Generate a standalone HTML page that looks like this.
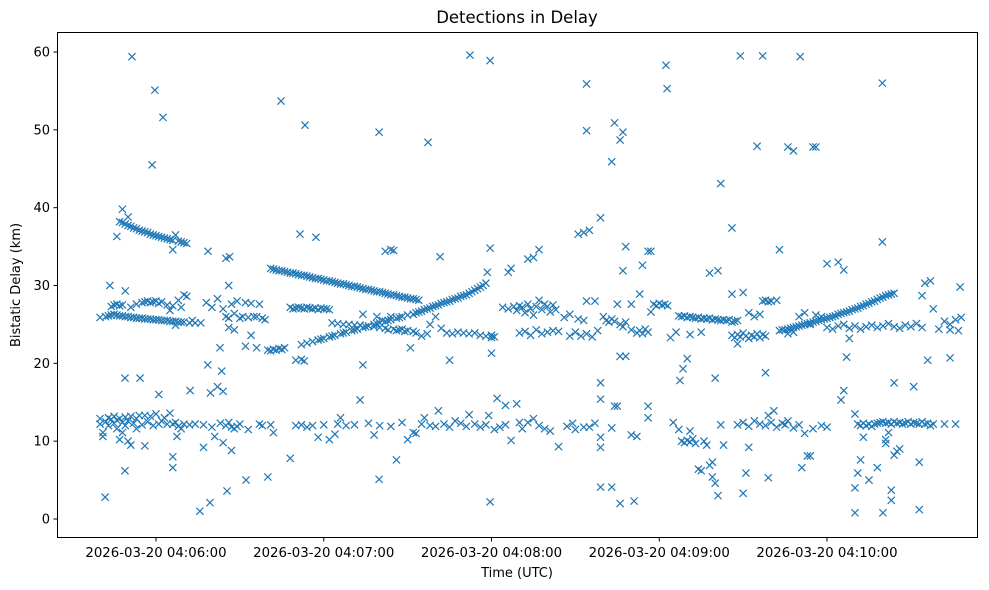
<!DOCTYPE html>
<html><head><meta charset="utf-8"><style>
html,body{margin:0;padding:0;background:#fff;}
svg{display:block;font-family:"DejaVu Sans","Liberation Sans",sans-serif;}
</style></head><body>
<svg id="chart" width="989" height="590" viewBox="0 0 989 590">
<rect x="0" y="0" width="989" height="590" fill="#fff"/>
<text x="517" y="23" text-anchor="middle" font-size="16.5" fill="#000">Detections in Delay</text>
<text x="517" y="577" text-anchor="middle" font-size="13" fill="#000">Time (UTC)</text>
<text x="20" y="285" text-anchor="middle" font-size="13" fill="#000" transform="rotate(-90 20 285)">Bistatic Delay (km)</text>
<g id="marks"></g>
<g id="axes"></g>
<rect x="57.5" y="32.5" width="920" height="505" fill="none" stroke="#000" stroke-width="1"/>
</svg>
<script>
const xTickSeconds = [60,120,180,240,300];
const xTickLabels = ["2026-03-20 04:06:00","2026-03-20 04:07:00","2026-03-20 04:08:00","2026-03-20 04:09:00","2026-03-20 04:10:00"];
const yTicks = [0,10,20,30,40,50,60];
// detections: [seconds after 04:05:00, bistatic delay km]
const trackA = [[46,36.3],[47,38.2],[48,39.8],[48,38.1],[49,37.9],[50,38.8],[50,37.7],[51,37.6],[52,37.4],[53,37.3],[54,37.1],[55,37.0],[56,36.9],[57,36.8],[58,36.6],[59,36.5],[60,36.4],[61,36.3],[62,36.2],[63,36.1],[64,36.0],[65,35.9],[66,34.6],[66,35.8],[67,36.5],[68,35.7],[69,35.6],[70,35.5],[71,35.4]];
const bandB = [[40,25.9],[42,26.0],[43,26.1],[44,26.2],[45,26.3],[46,26.2],[47,26.1],[48,26.1],[49,26.0],[50,26.0],[51,25.9],[52,25.9],[53,25.8],[54,25.8],[55,25.8],[56,25.7],[57,25.7],[58,25.7],[59,25.6],[60,25.6],[61,25.6],[62,25.5],[63,25.5],[64,25.5],[65,25.4],[66,25.4],[67,25.4],[68,25.3],[69,25.3],[70,25.3],[72,25.2],[74,25.2],[76,25.2],
[44,27.3],[45,27.5],[46,27.6],[47,27.4],[48,27.5],[49,29.3],[51,27.2],[53,27.6],[55,27.8],[56,27.9],[57,28.0],[58,27.8],[59,27.9],[60,28.0],[61,27.7],[62,27.9],[64,27.5],[65,26.8],[66,27.4],[67,24.9],[68,28.1],[69,27.2],[70,28.8],[71,28.6],[73,25.5]];
const bandC = [[40,12.9],[40,12.2],[41,11.1],[41,10.6],[42,12.5],[43,13.0],[43,12.0],[44,12.8],[45,12.3],[45,13.2],[46,11.6],[46,12.7],[47,12.9],[47,10.2],[48,12.4],[48,11.1],[49,13.1],[49,12.0],[50,12.6],[50,10.0],[51,9.5],[51,13.2],[52,12.3],[53,12.9],[53,11.6],[54,13.3],[55,12.1],[56,9.4],[56,13.3],[57,12.5],[58,13.2],[59,12.0],[60,13.5],[61,12.2],[62,12.6],[63,13.0],[64,12.2],[65,13.6],[66,12.2],[66,6.6],[67,12.4],[68,11.9],[69,11.6],[70,12.2],[72,12.1],[74,12.2]];
const outliersLeft = [[41.8,2.8],[43.5,30.0],[48.9,18.1],[48.9,6.2],[51.4,59.4],[54.3,18.1],[58.6,45.5],[59.6,55.1],[62.5,51.6],[61,16.0],[66,8.0],[67.5,10.6],[72.2,16.5],[75.7,1.0],[79.3,2.1],[85.4,3.6],[92.2,5.0],[100,5.4],[78.6,34.4],[81,10.6],[82,17.0],[82.9,22.0],[83.5,19.0],[84,16.4],[85,33.5],[86.3,33.7],[86,30.0],[79.5,16.2],[78.5,19.8],[77,9.2],[84,9.8],[87,8.8],
[78,27.8],[80,27.2],[82,28.3],[84,27.0],[85,26.0],[86,25.8],[87,27.6],[88,26.4],[89,28.0],[90,25.8],[91,26.0],[92,27.8],[93,25.9],[94,27.7],[95,26.0],[96,26.0],[97,27.6],[98,25.8],[99,25.6],[96,22.0],[92,22.2],[94,23.6],[88,24.3],[86,24.6],
[77,12.1],[80,11.8],[83,12.3],[85,12.0],[86,12.4],[87,11.8],[88,11.6],[89,11.9],[90,12.2],[93,11.5],[97,12.2],[98,12.0],[101,12.1]];
const bandMid = [[100,21.7],[101,21.6],[102,21.8],[103,21.7],[104,21.9],[105,21.8],[106,22.0],[108,27.2],[109,27.0],[110,27.1],[111,27.2],[112,27.1],[113,27.0],[114,27.2],[115,27.1],[116,27.0],[117,27.1],[118,26.9],[119,27.1],[120,27.0],[121,27.0],[122,26.9],[110,20.4],[112,20.5],[113,20.3]];
const trackD = [[101,32.2],[102,32.1],[103,32.0],[104,31.9],[105,31.9],[106,31.8],[107,31.7],[108,31.6],[109,31.6],[110,31.5],[111,31.4],[112,31.3],[113,31.3],[114,31.2],[115,31.1],[116,31.0],[117,30.9],[118,30.9],[119,30.8],[120,30.7],[121,30.6],[122,30.6],[123,30.5],[124,30.4],[125,30.3],[126,30.2],[127,30.2],[128,30.1],[129,30.0],[130,29.9],[131,29.9],[132,29.8],[133,29.7],[134,29.6],[135,29.5],[136,29.5],[137,29.4],[138,29.3],[139,29.2],[140,29.2],[141,29.1],[142,29.0],[143,28.9],[144,28.8],[145,28.8],[146,28.7],[147,28.6],[148,28.5],[149,28.5],[150,28.4],[151,28.3],[152,28.3],[153,28.2],[154,28.1]];
const trackE = [[112,22.4],[114,22.6],[116,22.8],[118,23.0],[119,23.1],[120,23.2],[122,23.4],[123,23.5],[124,23.6],[126,23.8],[127,23.9],[128,24.0],[130,24.2],[131,24.3],[132,24.4],[134,24.6],[135,24.7],[136,24.8],[138,25.0],[139,25.1],[140,25.2],[142,25.4],[143,25.5],[144,25.6],[146,25.8],[147,25.9],[148,26.0],[150,26.2],
[152,26.3],[153,26.5],[154,26.6],[155,26.7],[156,26.9],[157,27.0],[158,27.1],[159,27.3],[160,27.4],[161,27.5],[162,27.7],[163,27.8],[164,27.9],[165,28.0],[166,28.2],[167,28.3],[168,28.4],[169,28.6],[170,28.7],[171,28.8],[172,29.0],[173,29.2],[174,29.4],[175,29.6],[176,29.8],[177,30.0],[178,30.3]];
const bandG = [[123,25.2],[125,25.1],[127,25.0],[129,25.0],[131,24.9],[133,24.9],[134,26.3],[136,24.8],[138,24.7],[139,26.0],[140,24.6],[141,25.5],[142,24.5],[143,24.3],[144,26.0],[145,24.4],[146,24.2],[147,24.3],[148,24.4],[149,24.1],[150,24.2],[151,22.0],[152,24.1],[153,23.9],[155,23.5],[157,23.8],[158,25.0],[160,26.0],[162,24.5],[164,23.9],[166,23.8],[168,24.0],[170,23.9],[172,23.8],[174,23.9],[176,23.6],[178,23.5],[180,23.6],[181,23.4]];
const outliersMid = [[104.7,53.7],[113.3,50.6],[111.5,36.6],[117.2,36.2],[108,7.8],[102,11.1],[139.8,49.7],[139.8,5.1],[133,15.3],[131,12.1],[134,19.8],[142,34.4],[144,34.6],[145,34.5],[157.3,48.4],[161.6,33.7],[165,20.4],[172.3,59.6],[179.5,58.9],[179.5,34.8],[178.5,31.7],[179.5,2.2],[180,21.3],[180,23.3],[182,15.5],[146,7.6],[150,10.2],[152,11.1],[125,12.2],[126,13.0],
[110,12.0],[112,12.1],[114,11.8],[116,12.0],[118,10.5],[120,12.1],[122,10.2],[124,10.9],[128,12.0],[136,12.3],[138,10.8],[140,12.0],[144,11.9],[148,12.4],[153,11.0],[155,12.2],[156,13.0],[158,12.0],[160,11.9],[161,13.9],[163,12.2],[165,11.8],[167,12.6],[169,12.3],[171,11.9],[172,13.4],[174,12.2],[176,11.8],[178,12.1],[179,13.3],[181,11.5],[183,11.8],[185,12.1],[187,10.1],[189,14.8],[191,11.6],[193,12.4],[195,12.9],[197,12.0],[199,11.6],[201,11.3],[204,9.3],[207,11.9],[209,12.3]];
const cluster8min = [[184,27.2],[186,27.0],[188,27.3],[189,26.8],[190,27.4],[191,27.2],[192,26.5],[193,27.6],[194,27.0],[195,26.2],[196,27.3],[197,28.1],[198,26.9],[199,27.6],[200,27.3],[201,26.6],[202,27.5],[203,26.9],[204,24.1],[206,25.9],[208,26.3],[190,23.9],[192,24.1],[194,23.6],[196,24.3],[198,23.8],[200,24.0],[202,24.2],[186,31.7],[187,32.2],[193,33.4],[195,33.6],[197,34.6],[185,14.6],[190,12.4]];
const cluster830 = [[211,36.6],[213,36.8],[215,37.1],[214,55.9],[214,49.9],[219,38.7],[219,17.5],[219,15.4],[219,10.5],[219,9.2],[219,4.1],[223,4.1],[224,14.5],[225,14.5],[226,2.0],[223,45.9],[224,50.9],[226,48.7],[227,49.7],[226,20.9],[228,20.9],[227,24.7],[228,35.0],[227,31.9],[230,27.6],[231,2.3],[230,10.8],[232,10.6],[233,28.9],[234,32.6],[236,34.4],[237,34.4],[236,14.5],[236,13.0],[242.4,58.3],[242.8,55.3],[247.4,17.8],[248.5,19.3],[250,20.6],[251,11.3],
[208,23.5],[210,24.0],[212,23.5],[214,23.8],[216,23.4],[218,24.2],[220,26.0],[221,25.5],[222,25.3],[223,25.7],[224,25.4],[225,27.6],[226,25.0],[228,25.3],[230,24.3],[232,23.9],[233,24.2],[234,23.8],[235,24.4],[236,24.0],[237,26.6],[238,27.6],[239,27.4],[240,27.7],[241,27.5],[242,27.6],[243,27.4],[244,23.3],[246,24.0],[211,25.7],[213,25.5],[217,28.0],[214,28.0],
[210,11.5],[213,11.8],[217,12.3],[223,11.7],[245,12.4],[247,11.5],[215,11.8]];
const cluster9min = [[247,26.1],[248,26.0],[249,26.1],[250,25.9],[251,26.0],[252,25.9],[253,25.8],[254,25.9],[255,25.7],[256,25.8],[257,25.7],[258,25.8],[259,25.6],[260,25.7],[261,25.6],[262,25.5],[263,25.6],[264,25.5],[265,25.6],[266,25.3],[267,25.4],[268,25.5],
[248,10.0],[249,9.8],[250,10.1],[251,9.9],[252,10.3],[253,9.7],[254,6.4],[255,6.2],[256,10.0],[257,9.5],[258,6.9],[259,5.4],[260,4.6],[261,3.0],[259,7.3],[255,24.0],[251,23.7],
[258,31.6],[260,18.1],[261,31.9],[262,12.1],[263,9.5],[262,43.1],[266,37.4],[266,28.9],[269,59.5],[268,22.5],[270,3.3],[271,5.9],[272,9.2],[275,47.9],[277,59.5],[279,5.3],[278,18.8],[280,28.0],[281,13.9],[283,34.6],[286,47.8],[288,47.3],[290.4,59.4],[291,6.6],[292,11.0],[293,8.1],[294,8.1],[295,47.8],[296,47.8],
[266,23.6],[267,23.3],[268,23.7],[269,23.4],[270,23.9],[271,23.5],[272,23.2],[273,23.6],[274,23.4],[275,23.8],[276,23.3],[277,23.7],[278,23.5],[272,26.5],[274,26.0],[276,26.3],[277,28.0],[278,28.1],[279,27.9],[280,28.0],[270,29.1],[282,28.1],
[268,12.1],[270,12.4],[272,11.9],[274,12.6],[276,12.2],[278,12.0],[279,13.3],[280,12.4],[282,11.8],[284,12.3],[285,12.1],[286,12.6],[288,11.7],[290,12.1],[295,11.6],[298,12.0],[300,11.8]];
const trackRise = [[283,24.2],[284,24.3],[285,24.3],[286,24.4],[287,24.5],[288,24.6],[289,24.7],[290,24.8],[291,24.9],[292,25.0],[293,25.1],[294,25.2],[295,25.3],[296,25.4],[297,25.5],[298,25.6],[299,25.7],[300,25.8],[301,25.9],[302,26.0],[303,26.1],[304,26.3],[305,26.4],[306,26.5],[307,26.6],[308,26.7],[309,26.9],[310,27.0],[311,27.1],[312,27.3],[313,27.4],[314,27.6],[315,27.7],[316,27.9],[317,28.0],[318,28.2],[319,28.4],[320,28.5],[321,28.7],[322,28.8],[323,28.9],[324,29.0],
[290,26.0],[292,26.5],[294,25.0],[296,26.2],[298,26.0],[300,24.6],[302,24.4],[304,24.8],[306,25.0],[308,24.5],[310,24.8],[312,24.4],[314,24.7],[316,24.9],[318,24.6],[320,24.8],[322,25.1],[324,24.7],[326,24.5],[328,24.9],[330,24.7],[332,25.1],[334,24.6],[286,23.8],[288,24.0]];
const outliersRight = [[300,32.8],[304,33.0],[306,32.0],[305,15.3],[306,16.5],[307,20.8],[308,23.2],[310,4.0],[310,0.8],[311,5.9],[312,7.6],[313,10.5],[315,5.0],[318,6.6],[319.8,56.0],[319.8,35.6],[320,0.8],[321,10.2],[323,3.7],[323,2.4],[324,8.2],[324,17.5],[331,17.0],[333,7.3],[333,1.2],[336,20.4],[334,28.7],[335,30.3],[337,30.6],[347.6,29.8],[340,24.4],[342,25.4],[344,24.3],[346,25.6],[347,24.2],[348,25.9],[344,25.0],[338,27.0],
[310,13.5],[311,12.2],[312,12.0],[313,12.3],[314,12.0],[315,12.2],[316,11.9],[317,12.2],[318,12.3],[319,12.4],[320,12.5],[321,12.3],[322,12.4],[323,12.2],[324,12.5],[325,12.3],[326,12.4],[327,12.2],[328,12.3],[329,12.5],[330,12.2],[331,12.4],[332,12.3],[333,12.2],[334,12.5],[335,12.2],[336,12.3],[337,12.0],[338,12.2],[342,12.2],[346,12.2],[326,9.0],[325,8.7],[322,11.1],[321,9.7],[344,20.7]];

const NS = "http://www.w3.org/2000/svg";
function xScale(t){ return 156 + (t - 60) * (167.75 / 60); }
function yScale(d){ return 519 - d * 7.783; }

const marks = document.getElementById('marks');
const groups = [trackA,bandB,bandC,outliersLeft,bandMid,trackD,trackE,bandG,outliersMid,cluster8min,cluster830,cluster9min,trackRise,outliersRight];
groups.forEach(g => g.forEach(p => {
  const x = xScale(p[0]), y = yScale(p[1]), s = 3.6;
  const path = document.createElementNS(NS,'path');
  path.setAttribute('d', `M${x-s},${y-s}L${x+s},${y+s}M${x-s},${y+s}L${x+s},${y-s}`);
  path.setAttribute('stroke','#1f77b4');
  path.setAttribute('stroke-width','1.2');
  path.setAttribute('fill','none');
  
  
  marks.appendChild(path);
}));

const axes = document.getElementById('axes');
xTickSeconds.forEach((t,i) => {
  const x = xScale(t);
  const l = document.createElementNS(NS,'line');
  l.setAttribute('x1',x); l.setAttribute('x2',x); l.setAttribute('y1',538); l.setAttribute('y2',541.5);
  l.setAttribute('stroke','#000');
  
  
  axes.appendChild(l);
  const tx = document.createElementNS(NS,'text');
  tx.setAttribute('x',x); tx.setAttribute('y',557); tx.setAttribute('text-anchor','middle');
  tx.setAttribute('font-size','13.3');
  tx.textContent = xTickLabels[i];
  
  
  axes.appendChild(tx);
});
yTicks.forEach(v => {
  const y = yScale(v);
  const l = document.createElementNS(NS,'line');
  l.setAttribute('x1',53.5); l.setAttribute('x2',57); l.setAttribute('y1',y); l.setAttribute('y2',y);
  l.setAttribute('stroke','#000');
  
  
  axes.appendChild(l);
  const tx = document.createElementNS(NS,'text');
  tx.setAttribute('x',50); tx.setAttribute('y',y+4.5); tx.setAttribute('text-anchor','end');
  tx.setAttribute('font-size','13');
  tx.textContent = String(v);
  
  
  axes.appendChild(tx);
});
</script>
</body></html>
